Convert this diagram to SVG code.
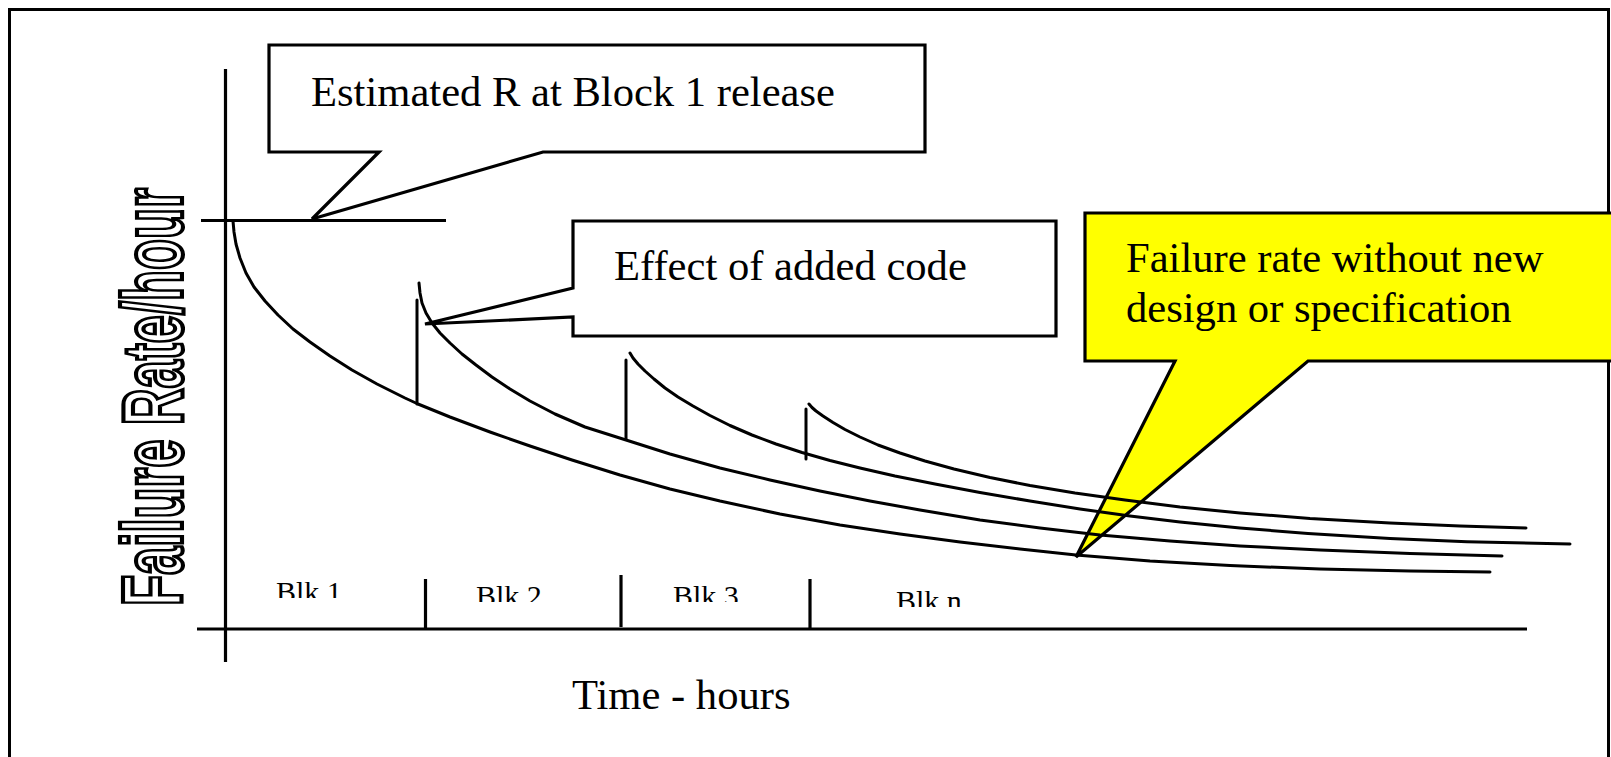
<svg xmlns="http://www.w3.org/2000/svg" width="1611" height="757" viewBox="0 0 1611 757">
  <style>
    .ln { fill: none; stroke: #000; stroke-width: 3; stroke-linecap: round; stroke-linejoin: round; }
    .ax { fill: none; stroke: #000; stroke-width: 3.2; stroke-linecap: butt; }
    .box { fill: #fff; stroke: #000; stroke-width: 3.2; stroke-linejoin: miter; }
    .note { fill: #ff0; stroke: #000; stroke-width: 3.2; stroke-linejoin: miter; }
    .t { font-family: "Liberation Serif", "Times New Roman", serif; font-size: 42.6px; fill: #000; }
    .blk { font-family: "Liberation Serif", "Times New Roman", serif; font-size: 30px; fill: #000; }
    .ylab { font-family: "Liberation Sans", Arial, sans-serif; font-weight: bold; font-size: 86px; fill: #fff; stroke: #000; stroke-width: 3.4; vector-effect: non-scaling-stroke; }
  </style>
  <defs>
    <clipPath id="clipBlk1"><rect x="260" y="560" width="100" height="38"/></clipPath>
    <clipPath id="clipBlk2"><rect x="460" y="560" width="100" height="42"/></clipPath>
    <clipPath id="clipBlk3"><rect x="660" y="560" width="100" height="42"/></clipPath>
    <clipPath id="clipBlkN"><rect x="880" y="560" width="100" height="47"/></clipPath>
  </defs>

  <rect width="1611" height="757" fill="#fff"/>

  <!-- page frame -->
  <rect id="frame" x="9.5" y="9.5" width="1599" height="800" fill="none" stroke="#000" stroke-width="3"/>

  <!-- callouts -->
  <g id="callout-estimated">
    <path class="box" d="M269,45 H925 V152 H543 L312,219 L379,152 H269 Z"/>
    <text class="t" x="311" y="106">Estimated R at Block 1 release</text>
  </g>
  <g id="callout-added-code">
    <path class="box" d="M573,221 H1056 V336 H573 V317 L425,324 L573,288 Z"/>
    <text class="t" x="614" y="280">Effect of added code</text>
  </g>
  <g id="callout-baseline">
    <path class="note" d="M1085,213 H1630 V361 H1308 L1076,557 L1175,361 H1085 Z"/>
    <text class="t" x="1126" y="272">Failure rate without new</text>
    <text class="t" x="1126" y="322">design or specification</text>
  </g>

  <!-- axes and block divisions -->
  <g id="axes">
    <line class="ax" x1="225.5" y1="69" x2="225.5" y2="662"/>
    <line class="ax" x1="197" y1="629" x2="1527" y2="629"/>
    <line class="ax" x1="201" y1="220.5" x2="446" y2="220.5"/>
    <line class="ax" x1="425.5" y1="579" x2="425.5" y2="629"/>
    <line class="ax" x1="621" y1="575" x2="621" y2="627"/>
    <line class="ax" x1="810" y1="579" x2="810" y2="629"/>
  </g>

  <g id="block-labels">
    <text class="blk" x="276" y="602" clip-path="url(#clipBlk1)">Blk 1</text>
    <text class="blk" x="476" y="606" clip-path="url(#clipBlk2)">Blk 2</text>
    <text class="blk" x="673" y="606" clip-path="url(#clipBlk3)">Blk 3</text>
    <text class="blk" x="896" y="611" clip-path="url(#clipBlkN)">Blk n</text>
  </g>

  <g id="axis-titles">
    <!-- condensed bold outline title, rotated to read bottom-to-top -->
    <text class="ylab" transform="translate(182,606) rotate(-90) scale(0.591,1)">Failure Rate/hour</text>
    <text class="t" x="572" y="709">Time - hours</text>
  </g>

  <!-- failure-rate curves -->
  <g id="connectors">
    <path id="curve-base" class="ln" d="M233,221 L234,232 L236,244 L240,258 L246,273 L254,287 L265,301 L278,315 L293,329 L310,342 L330,356 L352,370 L377,384 L405,398 L418,404 L450,417 L490,432 L530,446 L572,460 L620,475 L670,489 L720,501 L780,514 L840,525 L900,534 L960,542 L1020,549 L1076,555 L1150,561 L1230,565.5 L1320,569 L1410,571 L1490,572"/>
    <line class="ln" x1="417" y1="300" x2="417" y2="404"/>
    <path id="curve-blk2" class="ln" d="M419,283 L420,293 L422,303 L426,313 L432,323 L440,333 L450,343 L462,354 L476,365 L492,377 L510,389 L530,401 L555,414 L585,427 L626,440 L670,454 L720,468 L770,480 L820,491 L870,501 L920,510 L980,520 L1040,528 L1100,535 L1170,541 L1240,546 L1320,550 L1410,553.5 L1502,556"/>
    <line class="ln" x1="626" y1="360" x2="626" y2="439"/>
    <path id="curve-blk3" class="ln" d="M630,353 L633,358 L638,364 L645,371 L654,379 L665,388 L678,397 L693,406 L710,415.5 L730,425.5 L752,435 L776,444 L802,452.5 L830,460.5 L860,468 L895,476 L935,484 L980,492.5 L1030,501 L1080,509 L1130,516 L1180,522 L1240,528 L1308,533.5 L1390,538.5 L1467,541.8 L1570,544"/>
    <line class="ln" x1="806" y1="409" x2="806" y2="459"/>
    <path id="curve-blkn" class="ln" d="M809,404 L812,407.5 L816,411 L823,416 L833,422.5 L845,429.5 L860,437 L878,445 L900,453 L925,461 L954,469 L990,477.5 L1030,485.5 L1075,493 L1125,500 L1180,507 L1240,513 L1310,518.5 L1390,523 L1460,526 L1526,528"/>
  </g>
</svg>
